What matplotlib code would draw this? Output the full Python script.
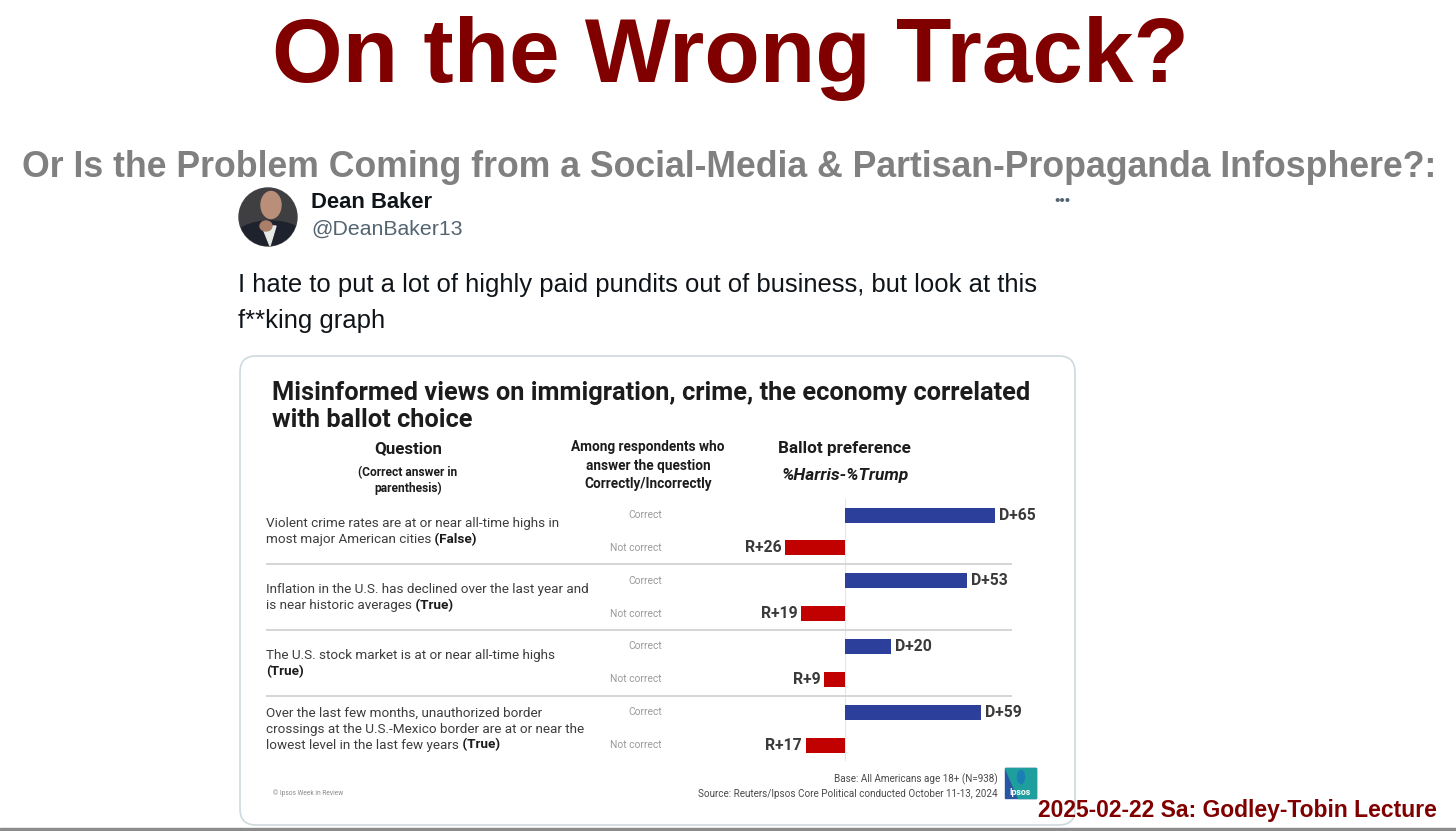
import matplotlib
matplotlib.use("Agg")
import matplotlib.pyplot as plt
from matplotlib import font_manager as fm
from matplotlib.patches import FancyBboxPatch, Circle, Ellipse, Rectangle, Polygon

W, H = 1456, 831

# ---- data ----
questions = [
    ["Violent crime rates are at or near all-time highs in",
     "most major American cities"],
    ["Inflation in the U.S. has declined over the last year and",
     "is near historic averages"],
    ["The U.S. stock market is at or near all-time highs",
     ""],
    ["Over the last few months, unauthorized border",
     "crossings at the U.S.-Mexico border are at or near the",
     "lowest level in the last few years"],
]
answers = ["(False)", "(True)", "(True)", "(True)"]
margin_correct = [65, 53, 20, 59]     # D+ among those answering correctly
margin_wrong = [26, 19, 9, 17]        # R+ among those answering incorrectly
row_labels = ["Correct", "Not correct"]

tweet_lines = ["I hate to put a lot of highly paid pundits out of business, but look at this",
               "f**king graph"]
chart_title = ["Misinformed views on immigration, crime, the economy correlated",
               "with ballot choice"]


def have(name):
    try:
        fm.findfont(fm.FontProperties(family=name), fallback_to_default=False)
        return True
    except ValueError:
        return False


SANS = "Liberation Sans" if have("Liberation Sans") else "DejaVu Sans"
CHART = next((f for f in ["Roboto", "Inter", "Lato"] if have(f)), "DejaVu Sans")

DARKRED = "#800000"
BLUE = "#2b3f9b"
RED = "#c10000"

fig = plt.figure(figsize=(W / 100, H / 100), dpi=100)
R = fig.canvas.get_renderer()


def fit(s, width, family, weight="normal", style="normal"):
    # font size (pt) that makes s about `width` pixels wide
    fp = fm.FontProperties(family=family, weight=weight, style=style, size=20)
    w, _, _ = R.get_text_width_height_descent(s, fp, ismath=False)
    return 20 * width / w


def textw(s, size, family, weight="normal"):
    fp = fm.FontProperties(family=family, weight=weight, size=size)
    return R.get_text_width_height_descent(s, fp, ismath=False)[0]


# --- background "slide" axes in pixel units ---
bg = fig.add_axes([0, 0, 1, 1])
bg.set_xlim(0, W)
bg.set_ylim(H, 0)
bg.axis("off")

s = "On the Wrong Track?"
bg.text(730, 82, s, ha="center", va="baseline", color=DARKRED, family=SANS,
        weight="bold", size=fit(s, 916, SANS, "bold"))
s = "Or Is the Problem Coming from a Social-Media & Partisan-Propaganda Infosphere?:"
bg.text(729, 177, s, ha="center", va="baseline", color="#808080", family=SANS,
        weight="bold", size=fit(s, 1414, SANS, "bold"))

# --- tweet header ---
av = Circle((268, 217), 29, color="#3f3f42")
bg.add_patch(av)
for p in [Ellipse((270, 238), 70, 34, color="#1d222c"),
          Polygon([[262, 226], [276, 226], [270, 246]], color="#e8e8e8"),
          Ellipse((271, 205), 20, 27, color="#b98f7a"),
          Ellipse((266, 226), 12, 10, color="#a97f6a")]:
    bg.add_patch(p)
    p.set_clip_path(av)

bg.text(311, 208, "Dean Baker", ha="left", va="baseline", color="#0f1419",
        family=SANS, weight="bold", size=fit("Dean Baker", 121, SANS, "bold"))
bg.text(311, 235, "@DeanBaker13", ha="left", va="baseline", color="#536471",
        family=SANS, size=fit("@DeanBaker13", 151, SANS))
bg.text(1062, 201, "\u2022\u2022\u2022", ha="center", va="center", color="#536471",
        family=SANS, size=11)

tw_size = fit(tweet_lines[0], 795, SANS)
for line, yb in zip(tweet_lines, [292, 328]):
    bg.text(238, yb, line, ha="left", va="baseline", color="#0f1419",
            family=SANS, size=tw_size)

# --- embedded chart card ---
bg.add_patch(FancyBboxPatch((240, 356), 835, 469,
                            boxstyle="round,pad=0,rounding_size=16",
                            facecolor="white", edgecolor="#cfd9de", lw=1.2))

ct_size = fit(chart_title[0], 756, CHART, "bold")
for line, yb in zip(chart_title, [400, 427]):
    bg.text(272, yb, line, ha="left", va="baseline", color="#1c1c1c",
            family=CHART, weight="bold", size=ct_size)

hdr = dict(ha="center", va="baseline", color="#1c1c1c", family=CHART, weight="bold")
bg.text(408, 453, "Question", size=fit("Question", 68, CHART, "bold"), **hdr)
sub_size = fit("(Correct answer in", 99, CHART, "bold")
bg.text(408, 476, "(Correct answer in", size=sub_size, **hdr)
bg.text(408, 492, "parenthesis)", size=sub_size, **hdr)
among_size = fit("Among respondents who", 153, CHART, "bold")
for line, yb in zip(["Among respondents who", "answer the question",
                     "Correctly/Incorrectly"], [451, 470, 488]):
    bg.text(648, yb, line, size=among_size, **hdr)
bg.text(844, 453, "Ballot preference",
        size=fit("Ballot preference", 133, CHART, "bold"), **hdr)
bg.text(845, 480, "%Harris-%Trump", style="italic",
        size=fit("%Harris-%Trump", 127, CHART, "bold", "italic"), **hdr)

# footer of the card
s = "Source: Reuters/Ipsos Core Political conducted October 11-13, 2024"
ft_size = fit(s, 299, CHART)
bg.text(998, 797, s, ha="right", va="baseline", color="#4a4a4a", family=CHART, size=ft_size)
bg.text(998, 782, "Base: All Americans age 18+ (N=938)", ha="right", va="baseline",
        color="#4a4a4a", family=CHART, size=ft_size)
bg.text(273, 795, "\u00a9 Ipsos Week in Review", ha="left", va="baseline", color="#8a8a8a",
        family=CHART, size=fit("\u00a9 Ipsos Week in Review", 71, CHART))

# Ipsos logo
bg.add_patch(Rectangle((1005, 768), 31, 30, color="#2a55a3"))
bg.add_patch(Polygon([[1005, 768], [1036, 768], [1036, 798], [1018, 798]], color="#1f9e9e"))
bg.add_patch(Ellipse((1021, 777), 7, 13, color="#1a7fb4"))
bg.text(1020.5, 795, "Ipsos", ha="center", va="baseline", color="white",
        family=CHART, weight="bold", size=6.3)

# slide footer
s = "2025-02-22 Sa: Godley-Tobin Lecture"
bg.text(1437, 817, s, ha="right", va="baseline", color=DARKRED, family=SANS,
        weight="bold", size=fit(s, 401, SANS, "bold"))
bg.add_patch(Rectangle((0, 828), W, 3, color="#8c8c8c"))

# --- bar chart axes ---
ZERO_X, PX_PER_PT = 845, 2.3          # zero line position and pixels per point
LEFT_X, RIGHT_X = 266, 1012
ROW0, ROW_PX = 515, (745 - 515) / 7   # centre of first bar, spacing of bars
top = ROW0 - ROW_PX / 2
bottom = ROW0 + 7.5 * ROW_PX
ax = fig.add_axes([LEFT_X / W, 1 - bottom / H, (RIGHT_X - LEFT_X) / W, (bottom - top) / H])
ax.set_xlim((LEFT_X - ZERO_X) / PX_PER_PT, (RIGHT_X - ZERO_X) / PX_PER_PT)
ax.set_ylim(7.5, -0.5)
ax.axis("off")

y_correct = [2 * g for g in range(len(questions))]
y_wrong = [2 * g + 1 for g in range(len(questions))]

ax.axvline(0, color="#e6e6e6", lw=0.8, zorder=0)
for g in range(1, len(questions)):
    ax.axhline(2 * g - 0.5, color="#d2d2d2", lw=1.3, zorder=0)

bar_h = 15 / ROW_PX
ax.barh(y_correct, margin_correct, height=bar_h, color=BLUE, zorder=2)
ax.barh(y_wrong, [-v for v in margin_wrong], height=bar_h, color=RED, zorder=2)

val_size = fit("D+65", 37, CHART, "bold")
for y, v in zip(y_correct, margin_correct):
    ax.annotate(f"D+{v}", xy=(v, y), xytext=(4, 0), textcoords="offset pixels",
                ha="left", va="center", color="#3a3a3a", family=CHART,
                weight="bold", size=val_size)
for y, v in zip(y_wrong, margin_wrong):
    ax.annotate(f"R+{v}", xy=(-v, y), xytext=(-4, 0), textcoords="offset pixels",
                ha="right", va="center", color="#3a3a3a", family=CHART,
                weight="bold", size=val_size)

yt = ax.get_yaxis_transform()
lab_x = (662 - LEFT_X) / (RIGHT_X - LEFT_X)
lab_size = fit("Not correct", 51, CHART)
for ys, lab in [(y_correct, row_labels[0]), (y_wrong, row_labels[1])]:
    for y in ys:
        ax.text(lab_x, y + 3 / ROW_PX, lab, transform=yt, ha="right", va="baseline",
                color="#9a9a9a", family=CHART, size=lab_size)

q_size = fit(questions[0][0], 292, CHART)
for g, lines in enumerate(questions):
    n = len(lines)
    mid = 2 * g + 0.5
    for k, line in enumerate(lines):
        yb = mid + (4 + (k - (n - 1) / 2) * 16) / ROW_PX
        ax.text(0, yb, line, transform=yt, ha="left", va="baseline",
                color="#3d3d3d", family=CHART, size=q_size)
    last = lines[-1]
    ans = (" " + answers[g]) if last else answers[g]
    dx = textw(last, q_size, CHART) if last else 0
    ax.annotate(ans, xy=(0, yb), xycoords=yt, xytext=(dx, 0), textcoords="offset pixels",
                ha="left", va="baseline", color="#1c1c1c", family=CHART,
                weight="bold", size=q_size)

fig.savefig("out.png", dpi=100, facecolor="white")
